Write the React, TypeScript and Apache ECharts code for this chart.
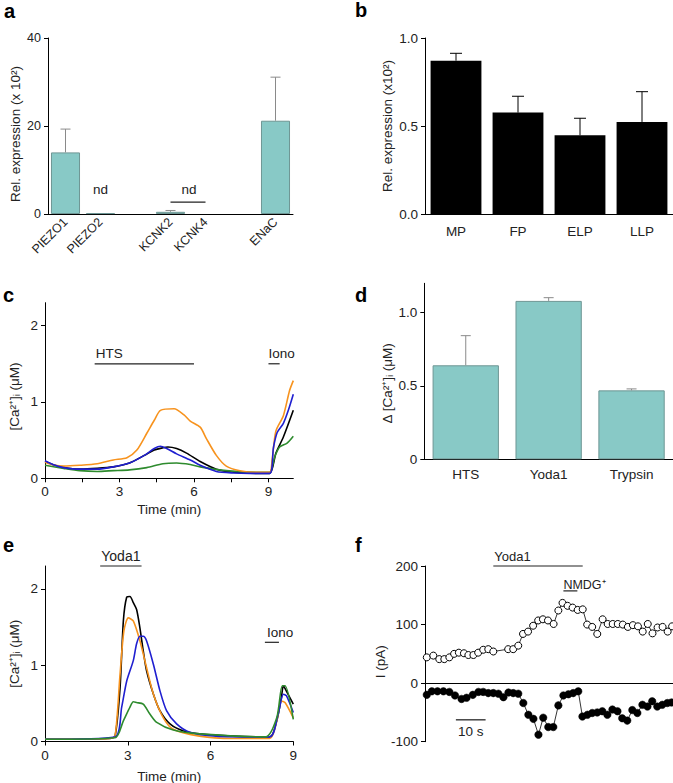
import React, { useEffect, useRef } from "react";
import * as echarts from "echarts";

// ---------- Panel a ----------
const aCategories = ["PIEZO1", "PIEZO2", "", "KCNK2", "KCNK4", "", "ENaC"];
const aMean = [14, 0.2, null, 0.5, null, null, 21.2];
const aUpper = [19.3, null, null, 0.8, null, null, 31.1];
const aTicks = [0, 20, 40];

// ---------- Panel b ----------
const bCategories = ["MP", "FP", "ELP", "LLP"];
const bMean = [0.871, 0.576, 0.447, 0.523];
const bUpper = [0.913, 0.669, 0.544, 0.695];
const bTicks = [0, 0.5, 1.0];

// ---------- Panel c ----------
const cOrange = [[0,0.21],[0.4,0.17],[0.75,0.16],[1.4,0.17],[2.1,0.19],[2.75,0.24],[3.3,0.27],[3.7,0.37],[4.1,0.59],[4.4,0.76],[4.65,0.89],[5.2,0.91],[5.6,0.83],[5.85,0.75],[6.25,0.67],[6.5,0.52],[6.9,0.3],[7.3,0.16],[7.85,0.1],[8.5,0.08],[9.05,0.08],[9.15,0.25],[9.3,0.62],[9.6,0.82],[9.85,1.15],[10,1.28]];
const cBlue = [[0,0.23],[0.4,0.17],[0.75,0.14],[1.4,0.12],[2.1,0.12],[2.75,0.15],[3.4,0.2],[4.0,0.3],[4.4,0.39],[4.65,0.42],[4.9,0.39],[5.3,0.32],[5.85,0.24],[6.25,0.17],[6.9,0.09],[7.6,0.07],[8.25,0.065],[9.05,0.065],[9.2,0.4],[9.35,0.6],[9.6,0.72],[9.8,0.89],[10,1.1]];
const cBlack = [[0,0.22],[0.4,0.17],[0.75,0.14],[1.4,0.12],[2.1,0.13],[2.75,0.15],[3.4,0.2],[4.0,0.3],[4.4,0.37],[4.75,0.4],[4.95,0.41],[5.3,0.39],[5.7,0.33],[6.25,0.22],[6.9,0.12],[7.6,0.08],[8.5,0.065],[9.05,0.065],[9.3,0.33],[9.6,0.54],[10,0.89]];
const cGreen = [[0,0.17],[0.75,0.13],[1.4,0.1],[2.1,0.09],[2.75,0.1],[3.4,0.11],[4.1,0.14],[4.75,0.19],[5.3,0.2],[5.85,0.18],[6.25,0.15],[7.3,0.1],[8.5,0.08],[9.05,0.08],[9.25,0.28],[9.45,0.41],[9.75,0.46],[10,0.55]];
const cXTicks = [0, 1.5, 3, 4.5, 6, 7.5, 9];
const cXLabels = [0, 3, 6, 9];
const cYTicks = [0, 1, 2];

// ---------- Panel d ----------
const dCategories = ["HTS", "Yoda1", "Trypsin"];
const dMean = [0.641, 1.08, 0.47];
const dUpper = [0.843, 1.102, 0.48];
const dTicks = [0, 0.5, 1.0];

// ---------- Panel e ----------
const eBlack = [[0,0.03],[2.35,0.04],[2.54,0.07],[2.72,0.7],[2.84,1.58],[2.96,1.89],[3.08,1.9],[3.2,1.82],[3.32,1.73],[3.44,1.49],[3.56,1.19],[3.68,0.93],[3.93,0.62],[4.17,0.4],[4.53,0.23],[5.0,0.14],[5.6,0.1],[6.8,0.07],[8.15,0.06],[8.4,0.27],[8.57,0.58],[8.64,0.73],[8.75,0.66],[9,0.49]];
const eOrange = [[0,0.03],[2.35,0.04],[2.54,0.07],[2.72,0.88],[2.86,1.45],[3.02,1.62],[3.2,1.58],[3.44,1.32],[3.68,0.97],[3.93,0.62],[4.29,0.31],[4.65,0.16],[5.6,0.07],[6.8,0.04],[8.15,0.04],[8.4,0.27],[8.57,0.53],[8.7,0.51],[9,0.31]];
const eBlue = [[0,0.03],[2.54,0.06],[2.78,0.45],[2.96,0.79],[3.2,1.06],[3.32,1.28],[3.44,1.38],[3.56,1.38],[3.68,1.32],[3.93,1.01],[4.17,0.66],[4.41,0.4],[4.77,0.23],[5.25,0.12],[6.2,0.07],[8.15,0.06],[8.45,0.36],[8.64,0.62],[8.75,0.6],[9,0.38]];
const eGreen = [[0,0.03],[2.54,0.05],[2.84,0.27],[3.08,0.45],[3.2,0.52],[3.32,0.51],[3.56,0.49],[3.8,0.36],[4.05,0.25],[4.65,0.15],[5.6,0.1],[8.0,0.06],[8.4,0.31],[8.6,0.73],[8.7,0.73],[9,0.29]];
const eXTicks = [0, 3, 6, 9];
const eYTicks = [0, 1, 2];

// ---------- Panel f ----------
const fOpenTime = [0.6,2.8,4.8,6.5,8.2,9.8,11.4,13.1,14.6,16.3,17.9,19.6,21.3,23.0,28.0,29.7,31.4,33.0,34.7,36.4,38.1,39.7,41.4,43.3,44.9,46.3,48.0,49.7,51.4,53.1,54.6,56.3,58.0,59.8,61.5,63.2,64.9,66.6,68.3,70.0,71.7,73.3,75.0,76.6,78.3,80.0,81.7,83.2];
const fOpenValue = [44,47,41,41,44,50,52,51,48,48,52,57,58,54,58,58,64,84,88,98,107,109,107,101,124,137,132,129,125,126,100,96,84,109,101,101,101,100,96,99,97,88,101,85,95,96,88,97];
const fFilledTime = [0.6,2.3,4.2,6.2,8.2,10.1,12.3,14.0,16.1,18.0,19.6,21.3,23.0,24.7,26.4,28.1,29.7,31.4,33.1,34.8,36.5,38.2,39.8,41.5,43.2,44.9,46.6,48.3,49.9,51.6,53.0,54.7,56.3,58.0,59.7,61.4,63.1,64.8,66.4,68.1,69.8,71.5,73.2,74.9,76.5,78.2,79.9,81.6,83.0];
const fFilledValue = [-20,-14,-14,-14,-15,-21,-27,-25,-20,-15,-15,-17,-17,-18,-24,-16,-17,-18,-34,-54,-61,-88,-59,-75,-75,-38,-21,-19,-17,-14,-57,-54,-51,-50,-48,-54,-45,-48,-60,-64,-46,-51,-37,-40,-31,-40,-37,-34,-33];
const fYTicks = [-100, 0, 100, 200];

const FONT = "Liberation Sans, Arial, Helvetica, sans-serif";
const TEAL = "#88C9C6";
const TEAL_BORDER = "#6E9694";

function yAxisBase(grid: number, min: number, max: number, ticks: number[], name: string, nameGap: number, fontSize: number, nameSize: number, shiftDown: number, fmt: (v: number) => string) {
  return {
    type: "value", gridIndex: grid, min, max,
    name, nameLocation: "middle", nameGap,
    nameTextStyle: { fontFamily: FONT, fontSize: nameSize, color: "#222", padding: [0, shiftDown * 2, 0, 0] },
    axisLine: { show: true, lineStyle: { color: "#000", width: 1 } },
    axisTick: { show: true, length: 4, customValues: ticks, lineStyle: { color: "#000" } },
    axisLabel: { customValues: ticks, fontFamily: FONT, fontSize, color: "#222", margin: 7, formatter: fmt },
    splitLine: { show: false },
  };
}

function errorSeries(axis: number, mean: (number | null)[], upper: (number | null)[], color: string, cap: number) {
  const data: number[][] = [];
  mean.forEach((m, i) => { if (m != null && upper[i] != null) data.push([i, m as number, upper[i] as number]); });
  return {
    type: "custom", xAxisIndex: axis, yAxisIndex: axis, z: 3,
    encode: { x: 0, y: [1, 2] },
    data,
    renderItem: (params: any, api: any) => {
      const x = api.value(0);
      const lo = api.coord([x, api.value(1)]);
      const hi = api.coord([x, api.value(2)]);
      return {
        type: "group",
        children: [
          { type: "line", shape: { x1: lo[0], y1: lo[1], x2: hi[0], y2: hi[1] }, style: { stroke: color, lineWidth: 1 } },
          { type: "line", shape: { x1: hi[0] - cap / 2, y1: hi[1], x2: hi[0] + cap / 2, y2: hi[1] }, style: { stroke: color, lineWidth: 1 } },
        ],
      };
    },
  };
}

function lineSeries(axis: number, data: number[][], color: string) {
  return {
    type: "line", xAxisIndex: axis, yAxisIndex: axis, data, showSymbol: false, smooth: 0.25,
    lineStyle: { color, width: 1.6 }, itemStyle: { color },
  };
}

export default function App() {
  const ref = useRef<HTMLDivElement>(null);
  useEffect(() => {
    document.body.style.margin = "0";
    const chart = echarts.init(ref.current!, null, { renderer: "svg" });
    const catX = (grid: number, cats: string[], fontSize: number, rotate: number, margin: number) => ({
      type: "category", gridIndex: grid, data: cats,
      axisLine: { show: true, lineStyle: { color: "#000", width: 1 } },
      axisTick: { show: false },
      axisLabel: { interval: 0, rotate, fontFamily: FONT, fontSize, color: "#222", margin },
    });
    const option: any = {
      animation: false,
      backgroundColor: "#fff",
      grid: [
        { left: 48, top: 38, width: 245, height: 176, outerBoundsMode: "none" },
        { left: 425, top: 38, width: 248, height: 176, outerBoundsMode: "none" },
        { left: 45, top: 302.7, width: 248.3, height: 175.6, outerBoundsMode: "none" },
        { left: 424.3, top: 283.3, width: 248.7, height: 176, outerBoundsMode: "none" },
        { left: 45, top: 566, width: 248.3, height: 175.5, outerBoundsMode: "none" },
        { left: 425, top: 566, width: 248, height: 175.7, outerBoundsMode: "none" },
      ],
      xAxis: [
        catX(0, aCategories, 12.5, 45, 6),
        catX(1, bCategories, 13.5, 0, 10),
        {
          type: "value", gridIndex: 2, min: 0, max: 10,
          name: "Time (min)", nameLocation: "middle", nameGap: 24,
          nameTextStyle: { fontFamily: FONT, fontSize: 13.5, color: "#222" },
          axisLine: { show: true, lineStyle: { color: "#000", width: 1 } },
          axisTick: { show: true, length: 4, customValues: cXTicks, lineStyle: { color: "#000" } },
          axisLabel: { customValues: cXLabels, fontFamily: FONT, fontSize: 13.5, color: "#222", margin: 6 },
          splitLine: { show: false },
        },
        catX(3, dCategories, 13.5, 0, 8),
        {
          type: "value", gridIndex: 4, min: 0, max: 9,
          name: "Time (min)", nameLocation: "middle", nameGap: 28,
          nameTextStyle: { fontFamily: FONT, fontSize: 13.5, color: "#222" },
          axisLine: { show: true, lineStyle: { color: "#000", width: 1 } },
          axisTick: { show: true, length: 4, customValues: eXTicks, lineStyle: { color: "#000" } },
          axisLabel: { customValues: eXTicks, fontFamily: FONT, fontSize: 13.5, color: "#222", margin: 7 },
          splitLine: { show: false },
        },
        {
          type: "value", gridIndex: 5, min: 0, max: 83.5,
          axisLine: { show: true, onZero: true, lineStyle: { color: "#000", width: 1 } },
          axisTick: { show: false }, axisLabel: { show: false }, splitLine: { show: false },
        },
      ],
      yAxis: [
        yAxisBase(0, 0, 40, aTicks, "Rel. expression (x 10²)", 26, 12.5, 13.5, 8, (v) => String(v)),
        yAxisBase(1, 0, 1.0, bTicks, "Rel. expression (x10²)", 31, 13.5, 13.5, 0, (v) => v.toFixed(1)),
        yAxisBase(2, 0, 2.3, cYTicks, "[Ca²⁺]ᵢ (μM)", 24, 13.5, 13.5, 6, (v) => String(v)),
        yAxisBase(3, 0, 1.2, dTicks, "Δ [Ca²⁺]ᵢ (μM)", 28, 13.5, 13.5, 12, (v) => (v === 0 ? "0" : v.toFixed(1))),
        yAxisBase(4, 0, 2.3, eYTicks, "[Ca²⁺]ᵢ (μM)", 24, 13.5, 13.5, 0, (v) => String(v)),
        yAxisBase(5, -100, 200, fYTicks, "I (pA)", 32, 13.5, 13.5, 8, (v) => String(v)),
      ],
      series: [
        errorSeries(0, aMean, aUpper, "#8a8a8a", 10),
        {
          type: "bar", xAxisIndex: 0, yAxisIndex: 0, barWidth: "83%", z: 2,
          data: aMean.map((v) => (v == null ? "-" : v)),
          itemStyle: { color: TEAL, borderColor: TEAL_BORDER, borderWidth: 1 },
        },
        errorSeries(1, bMean, bUpper, "#000", 12),
        {
          type: "bar", xAxisIndex: 1, yAxisIndex: 1, barWidth: "82%", z: 2,
          data: bMean, itemStyle: { color: "#000" },
        },
        lineSeries(2, cBlack, "#000000"),
        lineSeries(2, cGreen, "#2E8B2E"),
        lineSeries(2, cOrange, "#F7931E"),
        lineSeries(2, cBlue, "#1F1FD0"),
        errorSeries(3, dMean, dUpper, "#8a8a8a", 10),
        {
          type: "bar", xAxisIndex: 3, yAxisIndex: 3, barWidth: "80%", z: 2,
          data: dMean, itemStyle: { color: TEAL, borderColor: TEAL_BORDER, borderWidth: 1 },
        },
        lineSeries(4, eBlack, "#000000"),
        lineSeries(4, eOrange, "#F7931E"),
        lineSeries(4, eBlue, "#1F1FD0"),
        lineSeries(4, eGreen, "#2E8B2E"),
        {
          type: "line", xAxisIndex: 5, yAxisIndex: 5, symbol: "circle", symbolSize: 7,
          data: fOpenTime.map((t, i) => [t, fOpenValue[i]]),
          lineStyle: { color: "#000", width: 0.8 },
          itemStyle: { color: "#fff", borderColor: "#000", borderWidth: 1 },
        },
        {
          type: "line", xAxisIndex: 5, yAxisIndex: 5, symbol: "circle", symbolSize: 7.5,
          data: fFilledTime.map((t, i) => [t, fFilledValue[i]]),
          lineStyle: { color: "#000", width: 0.8 },
          itemStyle: { color: "#000", borderColor: "#000", borderWidth: 0.5 },
        },
      ],
    };
    chart.setOption(option);

    const P = (g: number, x: number, y: number) => chart.convertToPixel({ gridIndex: g }, [x, y]) as number[];
    const txt = (text: string, x: number, y: number, size: number, align = "left", vAlign = "bottom", weight = "normal") => ({
      type: "text", silent: true,
      style: { text, x, y, fill: "#222", font: `${weight} ${size}px ${FONT}`, align, verticalAlign: vAlign },
    });
    const seg = (a: number[], b: number[], color = "#222", w = 1.2) => ({
      type: "line", silent: true, shape: { x1: a[0], y1: a[1], x2: b[0], y2: b[1] }, style: { stroke: color, lineWidth: w },
    });

    const g: any[] = [];
    const letter = (t: string, x: number, y: number) => ({
      type: "text", silent: true,
      style: { text: t, x, y, fill: "#000", font: `bold 20px ${FONT}`, align: "left", verticalAlign: "middle" },
    });
    g.push(letter("a", 4, 11), letter("b", 355, 10), letter("c", 3, 295), letter("d", 355, 295), letter("e", 3, 545), letter("f", 355, 545));

    // panel a: nd
    const nd1 = P(0, 1, 4);
    g.push(txt("nd", nd1[0], nd1[1], 13.5, "center", "bottom"));
    const ndL = P(0, 3, 2.7), ndR = P(0, 4, 2.7);
    g.push(seg(ndL, ndR, "#222", 1.2));
    g.push(txt("nd", (ndL[0] + ndR[0]) / 2 + 1, nd1[1], 13.5, "center", "bottom"));

    // panel c: HTS / Iono
    const h1 = P(2, 2, 1.5), h2 = P(2, 6, 1.5);
    g.push(seg(h1, h2), txt("HTS", h1[0] + 1, h1[1] - 3, 13.5));
    const i1 = P(2, 9, 1.5), i2 = P(2, 9.45, 1.5);
    g.push(seg(i1, i2), txt("Iono", i1[0], i1[1] - 3, 13.5));

    // panel e: Yoda1 / Iono
    const y1 = P(4, 2, 2.3), y2 = P(4, 3.5, 2.3);
    g.push(seg(y1, y2), txt("Yoda1", (y1[0] + y2[0]) / 2, y1[1] - 3, 14, "center"));
    const e1 = P(4, 7.97, 1.3), e2 = P(4, 8.48, 1.3);
    g.push(seg(e1, e2), txt("Iono", e1[0] + 2, e1[1] - 3, 13.5));

    // panel f: Yoda1 / NMDG / scale bar
    const f1 = P(5, 23, 200), f2 = P(5, 53.1, 200);
    g.push(seg(f1, f2), txt("Yoda1", f1[0] + 1, f1[1] - 3, 13));
    const n1 = P(5, 46.6, 157.5), n2 = P(5, 51.3, 157.5);
    g.push(seg(n1, n2), txt("NMDG⁺", n1[0], n1[1] + 1, 12.5));
    const s1 = P(5, 10.4, -62.6), s2 = P(5, 20.4, -62.6);
    g.push(seg(s1, s2, "#444", 1.5), txt("10 s", (s1[0] + s2[0]) / 2, s1[1] + 5, 13.5, "center", "top"));

    chart.setOption({ graphic: g });
    return () => chart.dispose();
  }, []);
  return <div ref={ref} style={{ width: 673, height: 783 }} />;
}
